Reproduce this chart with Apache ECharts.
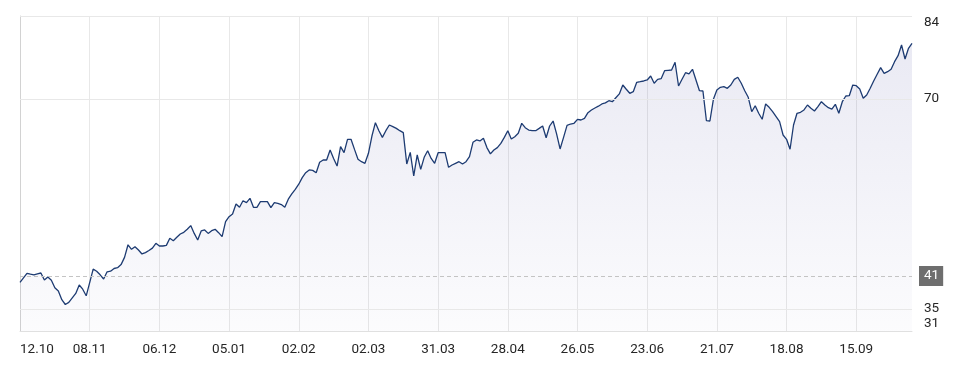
<!DOCTYPE html>
<html><head><meta charset="utf-8">
<script src="https://cdn.jsdelivr.net/npm/echarts@6/dist/echarts.min.js"></script>
<style>html,body{margin:0;padding:0;background:#fff}#c{width:954px;height:371px}</style>
</head><body><div id="c"></div>
<script>
const tickLabels = ['12.10','08.11','06.12','05.01','02.02','02.03','31.03','28.04','26.05','23.06','21.07','18.08','15.09'];

const values = [
39.45,40.2,40.95,40.8,40.67,40.85,41.0,39.83,40.33,39.8,
38.55,38.0,36.55,35.75,36.1,36.85,37.6,39.0,38.3,37.2,
39.4,41.65,41.3,40.7,40.0,41.2,41.3,41.75,41.88,42.4,
43.6,45.7,44.95,45.38,44.83,44.17,44.4,44.75,45.15,45.95,
45.5,45.5,45.6,46.78,46.38,46.95,47.5,47.78,48.28,48.9,
47.6,46.5,48.0,48.17,47.6,48.05,48.28,47.72,47.05,49.55,
50.38,50.83,52.5,51.95,53.05,52.72,53.45,51.95,51.95,52.9,
52.9,52.9,51.9,52.72,52.6,52.4,51.95,53.3,54.17,54.95,
55.8,56.9,57.72,58.17,58.1,57.72,59.45,59.83,59.83,61.5,
60.1,58.83,62.05,61.05,63.28,63.28,61.6,59.95,59.55,59.28,
60.95,63.83,66.05,64.72,63.6,64.72,65.67,65.4,65.1,64.72,
64.4,59.17,61.1,57.17,60.67,58.28,60.28,61.38,60.1,59.28,
61.05,61.05,61.05,58.62,59.0,59.28,59.55,59.17,59.55,60.4,
62.78,63.17,63.0,63.45,61.9,60.85,61.5,61.9,62.6,63.6,
64.72,63.33,63.72,64.28,65.95,65.22,64.83,64.72,64.72,65.1,
65.5,63.55,65.5,66.33,64.2,61.67,63.6,65.6,65.83,65.95,
66.6,66.5,66.78,67.72,68.17,68.5,68.8,69.17,69.35,69.72,
69.55,70.2,70.85,72.33,71.62,70.95,71.22,72.78,72.88,73.0,
73.17,73.83,72.62,73.28,73.38,74.72,74.78,74.83,76.12,72.17,
73.28,74.38,74.17,74.95,73.17,71.38,71.33,66.38,66.33,69.95,
71.5,71.95,72.05,71.78,72.33,73.28,73.62,72.62,71.38,70.28,
67.88,68.88,67.62,66.62,69.17,68.62,67.88,67.05,66.22,64.0,
63.28,61.62,65.67,67.62,67.78,68.17,69.0,68.45,68.0,68.72,
69.55,69.0,68.55,68.33,69.12,67.62,69.55,70.5,70.55,72.33,
72.22,71.67,70.12,70.67,71.78,73.0,74.12,75.22,74.28,74.55,
74.95,76.22,77.22,79.0,76.67,78.45,79.28
];

const yMin = 31.333;
const yMax = 83.833;
const yGridValues = [35, 70, yMax];
const yLabelValues = [yMin, 35, 70, yMax];
const refValue = 40.5;
const TICK_STEP = 20;

const categories = values.map((_, i) => (i % TICK_STEP === 0 ? (tickLabels[i / TICK_STEP] || '') : ''));
const everyTick = (idx) => idx % TICK_STEP === 0;

const chart = echarts.init(document.getElementById('c'), null, {renderer: 'canvas'});
const FONT = 'Roboto, "Noto Sans", sans-serif';
const TEXT = '#262626';

chart.setOption({
  animation: false,
  backgroundColor: '#ffffff',
  grid: {left: 20, right: 42, top: 16, bottom: 40, containLabel: false},
  xAxis: {
    type: 'category',
    data: categories,
    boundaryGap: false,
    axisLine: {show: true, lineStyle: {color: '#e0e0e0', width: 1}},
    axisTick: {show: false},
    axisLabel: {
      interval: 19,
      margin: 12,
      color: TEXT,
      fontSize: 13.5,
      fontFamily: FONT,
      alignMinLabel: 'left'
    },
    splitLine: {show: true, interval: everyTick, lineStyle: {color: '#e8e8e8', width: 1}}
  },
  yAxis: [{
    type: 'value',
    position: 'right',
    min: yMin,
    max: yMax,
    axisLine: {show: false},
    axisTick: {show: false},
    splitLine: {show: false},
    axisLabel: {
      customValues: yLabelValues,
      margin: 12,
      color: TEXT,
      fontSize: 13.5,
      fontFamily: FONT,
      formatter: (v) => String(Math.round(v)),
      verticalAlignMinLabel: 'bottom',
      verticalAlignMaxLabel: 'top'
    }
  }, {
    type: 'value',
    position: 'left',
    min: yMin,
    max: yMax,
    axisLine: {show: true, lineStyle: {color: '#d2d2d2', width: 1}},
    axisTick: {show: false},
    axisLabel: {show: false},
    splitLine: {show: false}
  }],
  series: [{
    type: 'line',
    data: [],
    z: 1,
    silent: true,
    markLine: {
      silent: true,
      symbol: 'none',
      animation: false,
      label: {show: false},
      lineStyle: {color: '#e8e8e8', type: 'solid', width: 1},
      data: yGridValues.map(v => ({yAxis: v}))
    }
  }, {
    type: 'line',
    data: values,
    z: 3,
    showSymbol: false,
    symbol: 'none',
    smooth: false,
    lineStyle: {color: '#1d3b72', width: 1.3},
    areaStyle: {
      origin: 'start',
      color: new echarts.graphic.LinearGradient(0, 0, 0, 1, [
        {offset: 0, color: 'rgba(40,40,140,0.14)'},
        {offset: 1, color: 'rgba(40,40,140,0.025)'}
      ])
    },
    markLine: {
      silent: true,
      symbol: 'none',
      animation: false,
      data: [{
        yAxis: refValue,
        lineStyle: {color: '#c4c4c4', type: [4, 3], width: 1},
        label: {
          show: true,
          position: 'end',
          distance: 7,
          formatter: () => String(Math.round(refValue)),
          color: '#ffffff',
          backgroundColor: '#6e6e6e',
          padding: [3, 4, 3, 5],
          fontSize: 13.5,
          lineHeight: 14,
          fontFamily: FONT
        }
      }]
    }
  }]
});
</script>
</body></html>
